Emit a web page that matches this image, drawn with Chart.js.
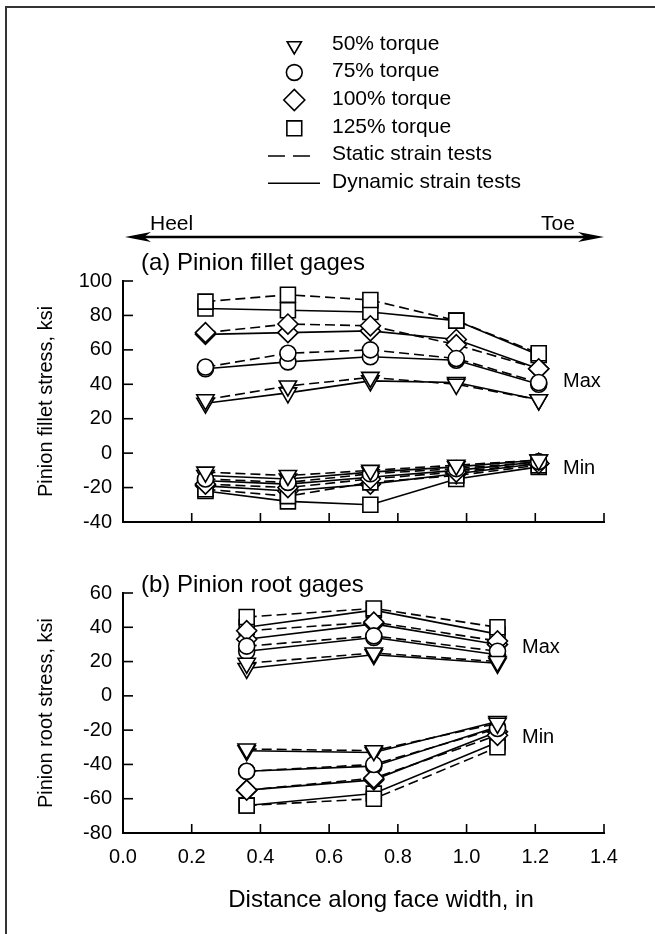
<!DOCTYPE html>
<html>
<head>
<meta charset="utf-8">
<script src="https://cdn.jsdelivr.net/npm/chart.js@4.4.1/dist/chart.umd.min.js"></script>
<style>
    body { margin: 0; background: #fff; }
    #page { position: relative; width: 655px; height: 934px; overflow: hidden; background: #fff; }
    #frame { position: absolute; left: 5px; top: 6px; width: 660px; height: 940px; border-left: 2px solid #333; border-top: 2px solid #333; }
    canvas { position: absolute; left: 0; top: 0; }
</style>
</head>
<body>
<div id="page">
    <div id="frame"></div>
    <canvas id="filletChart" width="655" height="934"></canvas>
    <canvas id="rootChart" width="655" height="934"></canvas>
</div>
<script>
// data
const torqueLabels = ['50% torque', '75% torque', '100% torque', '125% torque'];
const xTicks = [0, 0.2, 0.4, 0.6, 0.8, 1.0, 1.2, 1.4];
const filletYTicks = [-40, -20, 0, 20, 40, 60, 80, 100];
const rootYTicks = [-80, -60, -40, -20, 0, 20, 40, 60];

// (a) pinion fillet gages, rows = 50/75/100/125% torque
const filletX = [0.24, 0.48, 0.72, 0.97, 1.21];
const filletMaxStatic = [
    [31, 39, 44, 40, 31],
    [50, 58, 60, 55, 41],
    [70, 75, 74, 63, 49],
    [88, 92, 89, 77, 58]
];
const filletMaxDynamic = [
    [29, 35, 42, 41, 31],
    [49, 53, 56, 54, 40],
    [69, 70, 71, 66, 49],
    [84, 83, 82, 77, 57]
];
const filletMinStatic = [
    [-11, -13, -10, -7, -4],
    [-15, -17, -12, -9, -5],
    [-18, -20, -15, -11, -6],
    [-21, -25, -17, -13, -7]
];
const filletMinDynamic = [
    [-13, -15, -11, -8, -4],
    [-16, -18, -14, -10, -5],
    [-19, -22, -18, -12, -6],
    [-22, -28, -30, -15, -8]
];

// (b) pinion root gages
const rootX = [0.36, 0.73, 1.09];
const rootMaxStatic = [
    [19, 25, 20],
    [29, 35, 26],
    [38, 43, 32],
    [46, 51, 40]
];
const rootMaxDynamic = [
    [16, 24, 19],
    [26, 34, 24],
    [33, 42, 30],
    [40, 50, 36]
];
const rootMinStatic = [
    [-31, -32, -16],
    [-44, -40, -19],
    [-55, -48, -23],
    [-64, -60, -30]
];
const rootMinDynamic = [
    [-32, -33, -15],
    [-44, -41, -18],
    [-55, -49, -21],
    [-64, -57, -27]
];

const FONT = '"Liberation Sans", Arial, Helvetica, sans-serif';
const markers = [
    { style: 'triangle', radius: 10, rotation: 180 },
    { style: 'circle', radius: 8, rotation: 0 },
    { style: 'rectRot', radius: 10, rotation: 0 },
    { style: 'rect', radius: 10.6, rotation: 0 }
];

function buildSets(xs, rows, dashed) {
    return rows.map((ys, i) => ({
        label: torqueLabels[i] + (dashed ? ' (static)' : ' (dynamic)'),
        data: xs.map((x, j) => ({ x: x, y: ys[j] })),
        borderColor: '#000',
        borderWidth: 1.6,
        borderDash: dashed ? [10, 5] : [],
        pointStyle: markers[i].style,
        pointRadius: markers[i].radius,
        pointRotation: markers[i].rotation,
        pointBackgroundColor: '#fff',
        pointBorderColor: '#000',
        pointBorderWidth: 1.6,
        tension: 0,
        fill: false
    }));
}

function text(ctx, s, x, y, size, align) {
    ctx.font = size + 'px ' + FONT;
    ctx.fillStyle = '#000';
    ctx.textAlign = align || 'left';
    ctx.textBaseline = 'middle';
    ctx.fillText(s, x, y);
}

function line(ctx, x1, y1, x2, y2) {
    ctx.beginPath();
    ctx.moveTo(x1, y1);
    ctx.lineTo(x2, y2);
    ctx.stroke();
}

function marker(ctx, m, x, y, r) {
    ctx.save();
    ctx.fillStyle = '#fff';
    ctx.strokeStyle = '#000';
    ctx.lineWidth = 1.6;
    ctx.setLineDash([]);
    Chart.helpers.drawPoint(ctx, { pointStyle: m.style, radius: r, rotation: m.rotation, borderWidth: 1.6 }, x, y);
    ctx.restore();
}

// tick marks pointing into the plot
function innerTicks(yTicks) {
    return {
        id: 'innerTicks',
        afterDraw(chart) {
            const { ctx, chartArea, scales } = chart;
            ctx.save();
            ctx.strokeStyle = '#000';
            ctx.lineWidth = 1.6;
            xTicks.forEach(v => {
                const px = scales.x.getPixelForValue(v);
                line(ctx, px, chartArea.bottom, px, chartArea.bottom - 9);
            });
            yTicks.forEach(v => {
                const py = scales.y.getPixelForValue(v);
                line(ctx, chartArea.left, py, chartArea.left + 10, py);
            });
            ctx.restore();
        }
    };
}

const filletNotes = {
    id: 'filletNotes',
    afterDraw(chart) {
        const ctx = chart.ctx;
        ctx.save();
        // legend
        const rows = [44, 71.7, 99.4, 127, 154.7, 182.4];
        const legendR = [8.2, 7.9, 10.5, 10.5];
        const legendY = [45.8, 72.5, 100, 128.3];
        markers.forEach((m, i) => marker(ctx, m, 294.3, legendY[i], legendR[i]));
        torqueLabels.forEach((t, i) => text(ctx, t, 332, rows[i], 21));
        ctx.strokeStyle = '#000';
        ctx.lineWidth = 1.6;
        ctx.setLineDash([17, 8]);
        line(ctx, 268, 156, 313, 156);
        ctx.setLineDash([]);
        line(ctx, 268, 183.3, 320, 183.3);
        text(ctx, 'Static strain tests', 332, rows[4], 21);
        text(ctx, 'Dynamic strain tests', 332, rows[5], 21);

        // heel / toe arrow
        ctx.lineWidth = 2.5;
        line(ctx, 135, 237, 594, 237);
        ctx.fillStyle = '#000';
        ctx.beginPath();
        ctx.moveTo(125, 237); ctx.lineTo(151, 232); ctx.lineTo(144, 237); ctx.lineTo(151, 242);
        ctx.closePath(); ctx.fill();
        ctx.beginPath();
        ctx.moveTo(604, 237); ctx.lineTo(578, 232); ctx.lineTo(585, 237); ctx.lineTo(578, 242);
        ctx.closePath(); ctx.fill();
        text(ctx, 'Heel', 150, 224.5, 21);
        text(ctx, 'Toe', 541, 224.5, 21);

        text(ctx, '(a) Pinion fillet gages', 141, 263.3, 24);
        text(ctx, 'Max', 563, 381, 20);
        text(ctx, 'Min', 563, 468, 20);
        ctx.restore();
    }
};

const rootNotes = {
    id: 'rootNotes',
    afterDraw(chart) {
        const ctx = chart.ctx;
        ctx.save();
        text(ctx, '(b) Pinion root gages', 141, 585, 24);
        text(ctx, 'Max', 522, 647, 20);
        text(ctx, 'Min', 522, 737, 20);
        text(ctx, 'Distance along face width, in', 381, 900.5, 24, 'center');
        ctx.restore();
    }
};

function axes(yTicks, yTitle, showX, xHeight) {
    return {
        x: {
            type: 'linear',
            min: xTicks[0],
            max: xTicks[xTicks.length - 1],
            ticks: {
                display: showX,
                stepSize: 0.2,
                color: '#000',
                font: { family: FONT, size: 20 },
                padding: 12,
                maxRotation: 0,
                callback: v => v.toFixed(1)
            },
            grid: { display: false, drawTicks: false },
            border: { display: true, color: '#000', width: 2 },
            afterFit: s => { s.height = xHeight; }
        },
        y: {
            min: yTicks[0],
            max: yTicks[yTicks.length - 1],
            ticks: {
                stepSize: 20,
                color: '#000',
                font: { family: FONT, size: 20 },
                padding: 11
            },
            grid: { display: false, drawTicks: false },
            border: { display: true, color: '#000', width: 2 },
            title: {
                display: true,
                text: yTitle,
                color: '#000',
                font: { family: FONT, size: 20 },
                padding: { top: 34, bottom: 0 }
            },
            afterFit: s => { s.width = 123; }
        }
    };
}

new Chart(document.getElementById('filletChart'), {
    type: 'line',
    data: {
        datasets: [].concat(
            buildSets(filletX, filletMaxStatic, true),
            buildSets(filletX, filletMaxDynamic, false),
            buildSets(filletX, filletMinStatic, true),
            buildSets(filletX, filletMinDynamic, false)
        )
    },
    options: {
        responsive: false,
        animation: false,
        events: [],
        layout: { padding: { left: 0, right: 51, top: 281, bottom: 402 } },
        plugins: { legend: { display: false }, tooltip: { enabled: false } },
        scales: axes(filletYTicks, 'Pinion fillet stress, ksi', false, 10)
    },
    plugins: [innerTicks(filletYTicks), filletNotes]
});

new Chart(document.getElementById('rootChart'), {
    type: 'line',
    data: {
        datasets: [].concat(
            buildSets(rootX, rootMaxStatic, true),
            buildSets(rootX, rootMaxDynamic, false),
            buildSets(rootX, rootMinStatic, true),
            buildSets(rootX, rootMinDynamic, false)
        )
    },
    options: {
        responsive: false,
        animation: false,
        events: [],
        layout: { padding: { left: 0, right: 51, top: 593, bottom: 0 } },
        plugins: { legend: { display: false }, tooltip: { enabled: false } },
        scales: axes(rootYTicks, 'Pinion root stress, ksi', true, 101)
    },
    plugins: [innerTicks(rootYTicks), rootNotes]
});
</script>
</body>
</html>
